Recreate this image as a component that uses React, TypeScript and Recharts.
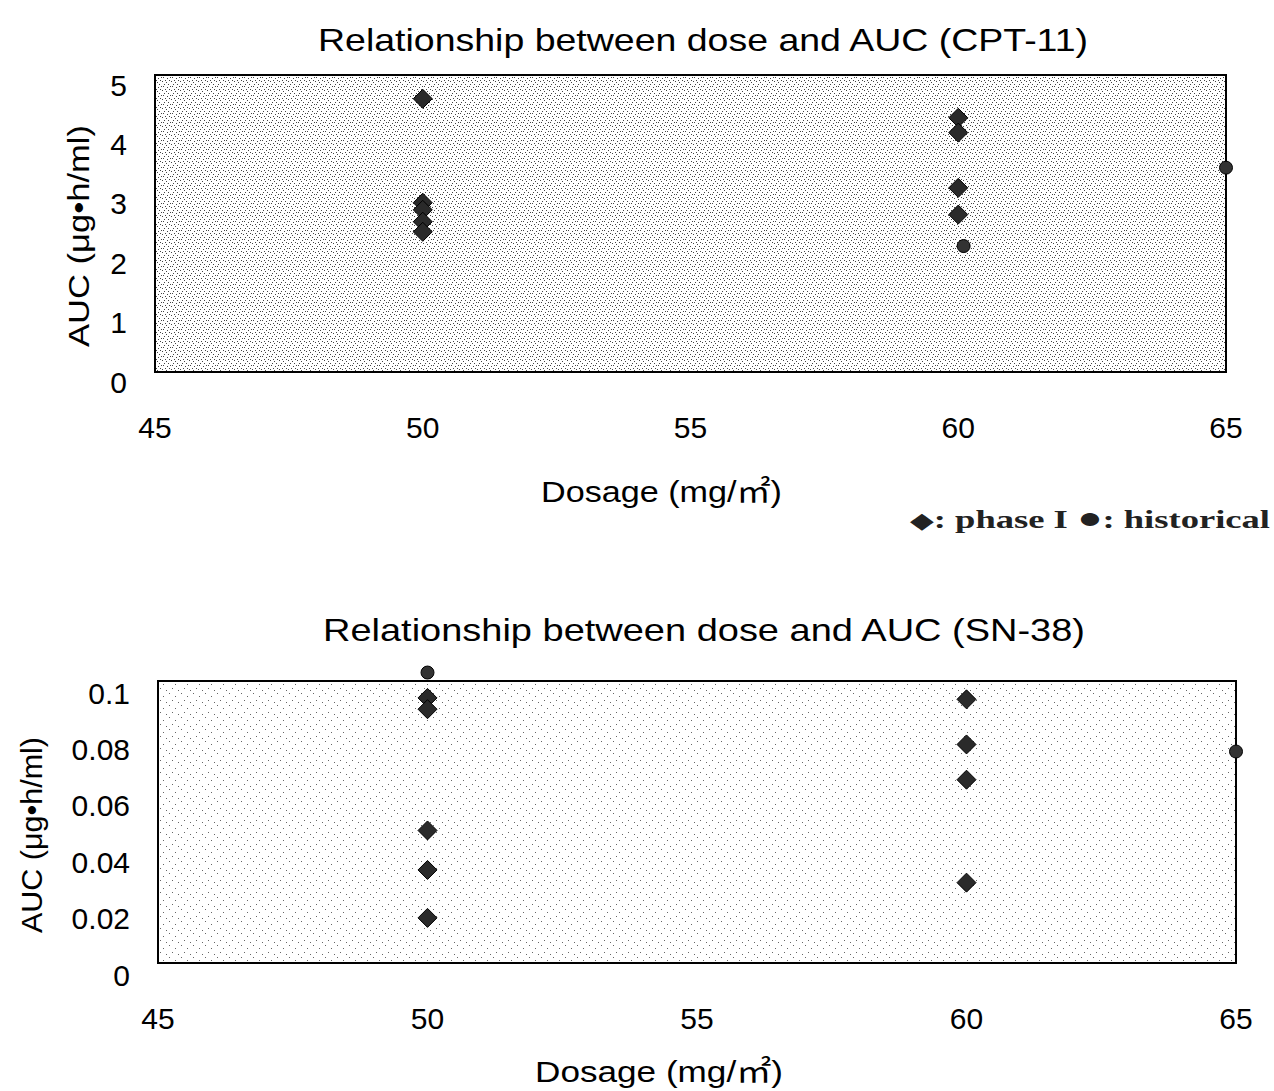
import React from "react";
import { ScatterChart, Scatter, XAxis, YAxis, ReferenceArea } from "recharts";

// CPT-11 (top chart)
const cptPhase1Dose = [50, 50, 50, 50, 50, 60, 60, 60, 60];
const cptPhase1Auc = [4.6, 2.85, 2.73, 2.53, 2.36, 4.28, 4.03, 3.1, 2.65];
const cptHistDose = [60.1, 65];
const cptHistAuc = [2.12, 3.44];

// SN-38 (bottom chart)
const snPhase1Dose = [50, 50, 50, 50, 50, 60, 60, 60, 60];
const snPhase1Auc = [0.094, 0.09, 0.047, 0.033, 0.016, 0.0935, 0.0775, 0.065, 0.0285];
const snHistDose = [50, 65];
const snHistAuc = [0.103, 0.075];

const doseTicks = [45, 50, 55, 60, 65];
const cptTicks = [0, 1, 2, 3, 4, 5];
const snTicks = [0, 0.02, 0.04, 0.06, 0.08, 0.1];

const zip = (xs: number[], ys: number[]) => xs.map((x, i) => ({ dose: x, auc: ys[i] }));

const SANS = "'Liberation Sans', Arial, 'Noto Sans CJK JP', sans-serif";
const SERIF = "'Liberation Serif', 'DejaVu Serif', serif";

function Diamond(props: any) {
  const { cx, cy } = props;
  if (cx == null || cy == null) return null;
  const r = 9.5;
  return (
    <polygon
      points={`${cx},${cy - r} ${cx + r},${cy} ${cx},${cy + r} ${cx - r},${cy}`}
      fill="#2a2a2a"
      stroke="#000"
      strokeWidth={1}
    />
  );
}

function Dot(props: any) {
  const { cx, cy } = props;
  if (cx == null || cy == null) return null;
  return <circle cx={cx} cy={cy} r={6.5} fill="#333" stroke="#000" strokeWidth={1} />;
}

const makeYTick = (shift: number) => (props: any) => {
  const { x, y, payload } = props;
  return (
    <text x={x} y={y + shift} dy="0.35em" textAnchor="end" fontSize={30} fontFamily={SANS} fill="#000">
      {payload.value}
    </text>
  );
};

const xTick = { fontSize: 30, fontFamily: SANS, fill: "#000" };

function Stipple({ id, dense }: { id: string; dense: boolean }) {
  // hand-placed dots in one tile, repeated across the plot area
  const dots = dense
    ? [[0, 0], [4, 1], [2, 3], [6, 3], [1, 5], [5, 6], [8, 5], [3, 8], [7, 8]]
    : [[1, 1], [7, 4], [4, 8], [10, 10]];
  const size = dense ? 9 : 12;
  return (
    <defs>
      <pattern id={id} width={size} height={size} patternUnits="userSpaceOnUse">
        <rect width={size} height={size} fill="#fff" />
        {dots.map(([dx, dy], i) => (
          <rect key={i} x={dx} y={dy} width={1} height={1} fill={dense ? "#444" : "#666"} />
        ))}
      </pattern>
    </defs>
  );
}

export default function App() {
  return (
    <div style={{ position: "absolute", left: 0, top: 0, width: 1274, height: 1091, background: "#fff", overflow: "hidden" }}>
      <div style={{ position: "absolute", left: 0, top: 0 }}>
        <ScatterChart width={1274} height={460} margin={{ top: 75, right: 48, bottom: 0, left: 0 }}>
          <Stipple id="stTop" dense />
          <XAxis
            type="number"
            dataKey="dose"
            domain={[45, 65]}
            ticks={doseTicks}
            axisLine={false}
            tickLine={false}
            tickSize={0}
            tickMargin={45}
            height={88}
            tick={xTick}
          />
          <YAxis
            type="number"
            dataKey="auc"
            domain={[0, 5]}
            ticks={cptTicks}
            axisLine={false}
            tickLine={false}
            tickSize={0}
            tickMargin={28}
            width={155}
            tick={makeYTick(10)}
          />
          <ReferenceArea x1={45} x2={65} y1={0} y2={5} fill="url(#stTop)" fillOpacity={1} stroke="#000" strokeWidth={2} />
          <Scatter data={zip(cptPhase1Dose, cptPhase1Auc)} shape={Diamond} isAnimationActive={false} />
          <Scatter data={zip(cptHistDose, cptHistAuc)} shape={Dot} isAnimationActive={false} />
        </ScatterChart>
      </div>

      <div style={{ position: "absolute", left: 0, top: 560 }}>
        <ScatterChart width={1274} height={500} margin={{ top: 92.8, right: 38, bottom: 0, left: 0 }}>
          <Stipple id="stBottom" dense={false} />
          <XAxis
            type="number"
            dataKey="dose"
            domain={[45, 65]}
            ticks={doseTicks}
            axisLine={false}
            tickLine={false}
            tickSize={0}
            tickMargin={45}
            height={97}
            tick={xTick}
          />
          <YAxis
            type="number"
            dataKey="auc"
            domain={[0, 0.11]}
            ticks={snTicks}
            axisLine={false}
            tickLine={false}
            tickSize={0}
            tickMargin={28}
            width={158}
            tick={makeYTick(12)}
          />
          <ReferenceArea x1={45} x2={65} y1={0} y2={0.1} fill="url(#stBottom)" fillOpacity={1} stroke="#000" strokeWidth={2} />
          <Scatter data={zip(snPhase1Dose, snPhase1Auc)} shape={Diamond} isAnimationActive={false} />
          <Scatter data={zip(snHistDose, snHistAuc)} shape={Dot} isAnimationActive={false} />
        </ScatterChart>
      </div>

      <svg width={1274} height={1091} style={{ position: "absolute", left: 0, top: 0, pointerEvents: "none" }}>
        <text x={318} y={51} fontSize={32} fontFamily={SANS} textLength={770} lengthAdjust="spacingAndGlyphs">
          Relationship between dose and AUC (CPT-11)
        </text>
        <text x={541} y={502} fontSize={30} fontFamily={SANS} textLength={241} lengthAdjust="spacingAndGlyphs">
          Dosage (mg/㎡)
        </text>
        <text
          x={78}
          y={236}
          dy="0.35em"
          textAnchor="middle"
          fontSize={30}
          fontFamily={SANS}
          transform="rotate(-90 78 236)"
          textLength={222}
          lengthAdjust="spacingAndGlyphs"
        >
          AUC (μg•h/ml)
        </text>
        <text x={910} y={528} fontSize={26} fontWeight="bold" fontFamily={SERIF} fill="#222" textLength={360} lengthAdjust="spacingAndGlyphs">
          <tspan fontSize={22}>◆</tspan>
          <tspan>: phase I </tspan>
          <tspan fontSize={30}>●</tspan>
          <tspan>: historical</tspan>
        </text>

        <text x={323} y={641} fontSize={32} fontFamily={SANS} textLength={762} lengthAdjust="spacingAndGlyphs">
          Relationship between dose and AUC (SN-38)
        </text>
        <text x={535} y={1082} fontSize={30} fontFamily={SANS} textLength={248} lengthAdjust="spacingAndGlyphs">
          Dosage (mg/㎡)
        </text>
        <text
          x={31}
          y={835}
          dy="0.35em"
          textAnchor="middle"
          fontSize={30}
          fontFamily={SANS}
          transform="rotate(-90 31 835)"
          textLength={196}
          lengthAdjust="spacingAndGlyphs"
        >
          AUC (μg•h/ml)
        </text>
      </svg>
    </div>
  );
}
